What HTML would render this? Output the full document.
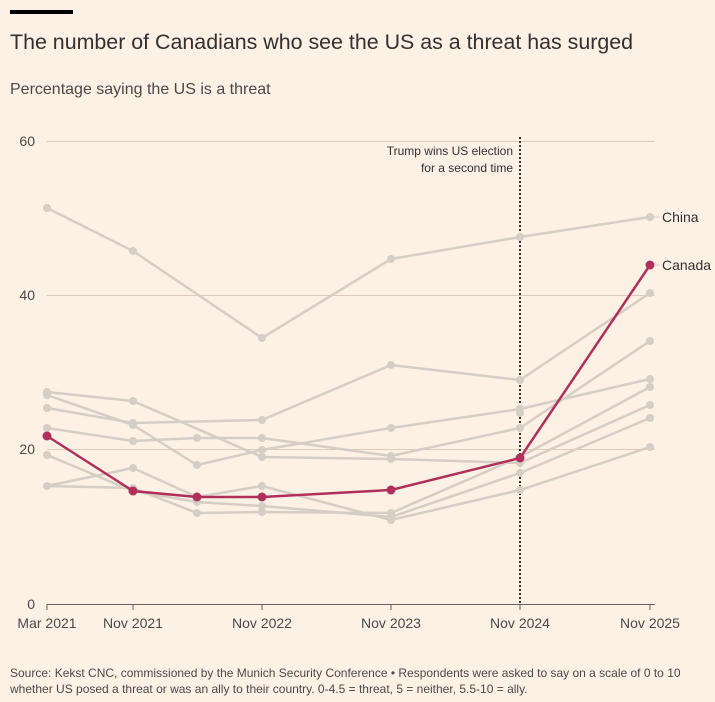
<!DOCTYPE html><html><head><style>body{margin:0;background:#fdf1e6;}svg{display:block;font-family:"Liberation Sans",sans-serif;}</style></head><body>
<svg width="715" height="702" viewBox="0 0 715 702">
<rect width="715" height="702" fill="#fdf1e6"/>
<rect x="10" y="10" width="63" height="4" fill="#000"/>
<text x="10" y="49" font-size="21.4" fill="#33302e">The number of Canadians who see the US as a threat has surged</text>
<text x="10" y="94" font-size="16" fill="#4d4845">Percentage saying the US is a threat</text>
<g stroke="#d9cbbd" stroke-width="1"><line x1="47" y1="141.5" x2="655" y2="141.5"/><line x1="47" y1="295.5" x2="655" y2="295.5"/><line x1="47" y1="449.5" x2="655" y2="449.5"/></g>
<g font-size="14" fill="#4d4845" text-anchor="end"><text x="35" y="146">60</text><text x="35" y="300">40</text><text x="35" y="454">20</text><text x="35" y="609">0</text></g>
<line x1="520" y1="137" x2="520" y2="604" stroke="#33302e" stroke-width="2" stroke-dasharray="2,2"/>
<g font-size="12" fill="#33302e" text-anchor="end"><text x="513" y="155">Trump wins US election</text><text x="513" y="172">for a second time</text></g>
<g fill="none" stroke="#d6cdc5" stroke-width="2.5">
<polyline points="47,208 133,251 262,338 391,259 520,237 650,217"/>
<polyline points="47,392 133,401 262,457 391,459 520,463 650,405"/>
<polyline points="47,395 133,425 197,465 262,450 391,428 520,409 650,379"/>
<polyline points="47,408 133,423 262,420 391,365 520,380 650,293"/>
<polyline points="47,428 133,441 197,438 262,438 391,456 520,428 650,341"/>
<polyline points="47,455 133,491 197,502 262,506 391,517 520,473 650,418"/>
<polyline points="47,486 133,468 197,497 262,486 391,520 520,490 650,447"/>
<polyline points="47,486 133,488 197,513 262,512 391,513 520,457 650,387"/>
</g>
<g fill="#d6cdc5">
<circle cx="47" cy="208" r="4"/><circle cx="133" cy="251" r="4"/><circle cx="262" cy="338" r="4"/><circle cx="391" cy="259" r="4"/><circle cx="520" cy="237" r="4"/><circle cx="650" cy="217" r="4"/>
<circle cx="47" cy="392" r="4"/><circle cx="47" cy="395" r="4"/><circle cx="47" cy="408" r="4"/><circle cx="47" cy="428" r="4"/><circle cx="47" cy="455" r="4"/><circle cx="47" cy="486" r="4"/>
<circle cx="133" cy="401" r="4"/><circle cx="133" cy="423" r="4"/><circle cx="133" cy="425" r="4"/><circle cx="133" cy="441" r="4"/><circle cx="133" cy="468" r="4"/><circle cx="133" cy="488" r="4"/>
<circle cx="197" cy="438" r="4"/><circle cx="197" cy="465" r="4"/><circle cx="197" cy="502" r="4"/><circle cx="197" cy="513" r="4"/>
<circle cx="262" cy="420" r="4"/><circle cx="262" cy="438" r="4"/><circle cx="262" cy="450" r="4"/><circle cx="262" cy="457" r="4"/><circle cx="262" cy="486" r="4"/><circle cx="262" cy="506" r="4"/><circle cx="262" cy="512" r="4"/>
<circle cx="391" cy="365" r="4"/><circle cx="391" cy="428" r="4"/><circle cx="391" cy="456" r="4"/><circle cx="391" cy="459" r="4"/><circle cx="391" cy="513" r="4"/><circle cx="391" cy="517" r="4"/><circle cx="391" cy="520" r="4"/>
<circle cx="520" cy="380" r="4"/><circle cx="520" cy="409" r="4"/><circle cx="520" cy="413" r="4"/><circle cx="520" cy="428" r="4"/><circle cx="520" cy="463" r="4"/><circle cx="520" cy="473" r="4"/><circle cx="520" cy="490" r="4"/>
<circle cx="650" cy="293" r="4"/><circle cx="650" cy="341" r="4"/><circle cx="650" cy="379" r="4"/><circle cx="650" cy="387" r="4"/><circle cx="650" cy="405" r="4"/><circle cx="650" cy="418" r="4"/><circle cx="650" cy="447" r="4"/>
</g>
<polyline points="47,436 133,491 197,497 262,497 391,490 520,458 650,265" fill="none" stroke="#b0305a" stroke-width="2.5"/>
<g fill="#b0305a"><circle cx="47" cy="436" r="4.5"/><circle cx="133" cy="491" r="4.5"/><circle cx="197" cy="497" r="4.5"/><circle cx="262" cy="497" r="4.5"/><circle cx="391" cy="490" r="4.5"/><circle cx="520" cy="458" r="4.5"/><circle cx="650" cy="265" r="4.5"/></g>
<g stroke="#d6cdc5" stroke-width="1"><line x1="654" y1="217" x2="660" y2="217"/><line x1="654" y1="265" x2="660" y2="265"/></g>
<g font-size="14" fill="#33302e"><text x="662" y="222">China</text><text x="662" y="270">Canada</text></g>
<line x1="47" y1="604.5" x2="655" y2="604.5" stroke="#66605c" stroke-width="1"/>
<g stroke="#66605c"><line x1="47" y1="604" x2="47" y2="610"/><line x1="133" y1="604" x2="133" y2="610"/><line x1="262" y1="604" x2="262" y2="610"/><line x1="391" y1="604" x2="391" y2="610"/><line x1="520" y1="604" x2="520" y2="610"/><line x1="650" y1="604" x2="650" y2="610"/></g>
<g font-size="14" fill="#4d4845" text-anchor="middle"><text x="47" y="628">Mar 2021</text><text x="133" y="628">Nov 2021</text><text x="262" y="628">Nov 2022</text><text x="391" y="628">Nov 2023</text><text x="520" y="628">Nov 2024</text><text x="650" y="628">Nov 2025</text></g>
<g font-size="12" fill="#4d4845"><text x="10" y="677">Source: Kekst CNC, commissioned by the Munich Security Conference • Respondents were asked to say on a scale of 0 to 10</text><text x="10" y="693">whether US posed a threat or was an ally to their country. 0-4.5 = threat, 5 = neither, 5.5-10 = ally.</text></g>
</svg></body></html>
